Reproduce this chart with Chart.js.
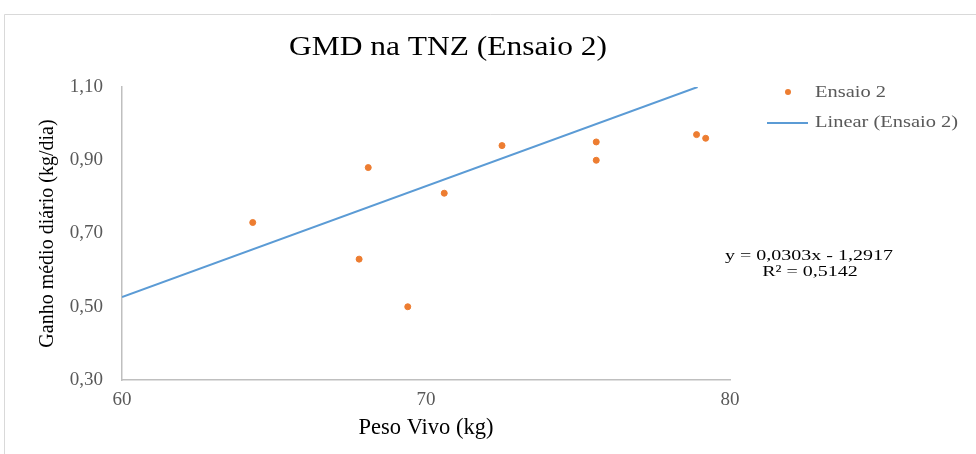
<!DOCTYPE html>
<html>
<head>
<meta charset="utf-8">
<script src="https://cdn.jsdelivr.net/npm/chart.js@4.4.1/dist/chart.umd.min.js"></script>
<style>
  html, body { margin: 0; padding: 0; background: #fff; }
  #wrap { position: relative; width: 976px; height: 454px; }
</style>
</head>
<body>
<div id="wrap"><canvas id="gmdChart" width="976" height="454"></canvas></div>
<script>
// -- Data -------------------------------------------------------------
const pesoVivo = [64.3, 67.8, 68.1, 69.4, 70.6, 72.5, 75.6, 75.6, 78.9, 79.2];
const gmd = [0.73, 0.63, 0.88, 0.50, 0.81, 0.94, 0.95, 0.90, 0.97, 0.96];
const xTicks = [60, 70, 80];
const yTicks = [0.30, 0.50, 0.70, 0.90, 1.10];
// linear trend line as printed on the chart
const trendSlope = 0.0303;
const trendIntercept = -1.2917;
const trendR2 = 0.5142;

const chartTitle = "GMD na TNZ (Ensaio 2)";
const seriesLabel = "Ensaio 2";
const trendLabel = "Linear (Ensaio 2)";

const SERIF = "'Liberation Serif', 'Times New Roman', serif";
const ORANGE = "#ED7D31";
const BLUE = "#5B9BD5";
const fmt = (v, d) => v.toFixed(d).replace(".", ",");

const yMin = yTicks[0], yMax = yTicks[yTicks.length - 1];
const xMin = xTicks[0];
// trend line runs from the left edge until it leaves the top of the plot
const trendEndX = (yMax - trendIntercept) / trendSlope;
const trendPoints = [
  { x: xMin, y: trendSlope * xMin + trendIntercept },
  { x: trendEndX, y: yMax },
];

// the source picture is a bit stretched sideways, so text drawn here is
// widened to match it
function wideText(ctx, text, x, y, align, sx) {
  ctx.save();
  ctx.translate(x, y);
  ctx.scale(sx, 1);
  ctx.textAlign = align;
  ctx.fillText(text, 0, 0);
  ctx.restore();
}

// frame, title, legend and regression equation (Excel-style placement)
const extras = {
  id: "extras",
  beforeDraw(chart) {
    const ctx = chart.ctx;
    ctx.save();
    ctx.fillStyle = "#fff";
    ctx.fillRect(0, 0, chart.width, chart.height);
    ctx.strokeStyle = "#d9d9d9";
    ctx.lineWidth = 1;
    ctx.beginPath();
    ctx.moveTo(4.5, chart.height);
    ctx.lineTo(4.5, 14.5);
    ctx.lineTo(chart.width, 14.5);
    ctx.stroke();
    ctx.restore();
  },
  afterDraw(chart) {
    const ctx = chart.ctx;
    ctx.save();
    ctx.textBaseline = "middle";

    // title
    ctx.fillStyle = "#000";
    ctx.font = "27px " + SERIF;
    wideText(ctx, chartTitle, 448, 48, "center", 1.165);

    // equation
    ctx.font = "15.5px " + SERIF;
    wideText(ctx, `y = ${fmt(trendSlope, 4)}x - ${fmt(-trendIntercept, 4)}`, 809, 255.5, "center", 1.29);
    wideText(ctx, `R\u00b2 = ${fmt(trendR2, 4)}`, 810, 272, "center", 1.29);

    // legend
    ctx.fillStyle = "#595959";
    ctx.font = "16.5px " + SERIF;
    wideText(ctx, seriesLabel, 815, 92.5, "left", 1.24);
    wideText(ctx, trendLabel, 815, 122.5, "left", 1.24);
    ctx.fillStyle = ORANGE;
    ctx.beginPath();
    ctx.arc(788, 92, 3, 0, Math.PI * 2);
    ctx.fill();
    ctx.strokeStyle = BLUE;
    ctx.lineWidth = 2;
    ctx.beginPath();
    ctx.moveTo(767, 123);
    ctx.lineTo(808, 123);
    ctx.stroke();
    ctx.restore();
  },
};

new Chart(document.getElementById("gmdChart"), {
  type: "scatter",
  data: {
    datasets: [
      {
        label: seriesLabel,
        data: pesoVivo.map((x, i) => ({ x, y: gmd[i] })),
        backgroundColor: ORANGE,
        borderColor: ORANGE,
        pointRadius: 3,
      },
      {
        label: trendLabel,
        type: "line",
        data: trendPoints,
        borderColor: BLUE,
        borderWidth: 2,
        pointRadius: 0,
      },
    ],
  },
  options: {
    animation: false,
    responsive: false,
    layout: { padding: { top: 87, left: 31, right: 246, bottom: 0 } },
    scales: {
      x: {
        type: "linear",
        min: xTicks[0],
        max: xTicks[xTicks.length - 1],
        afterBuildTicks: (s) => { s.ticks = xTicks.map((v) => ({ value: v })); },
        afterFit: (s) => { s.height = 74; },
        grid: { display: false, drawTicks: false },
        border: { color: "#bfbfbf", width: 1.5 },
        ticks: {
          color: "#595959",
          padding: 9,
          font: { family: SERIF, size: 19 },
        },
        title: {
          display: true,
          text: "Peso Vivo (kg)",
          color: "#000",
          font: { family: SERIF, size: 22.5 },
          padding: { top: 0, bottom: 12 },
        },
      },
      y: {
        min: yMin,
        max: yMax,
        afterBuildTicks: (s) => { s.ticks = yTicks.map((v) => ({ value: v })); },
        afterFit: (s) => { s.width = 91; },
        grid: { display: false, drawTicks: false },
        border: { color: "#bfbfbf", width: 1.5 },
        ticks: {
          color: "#595959",
          padding: 19,
          font: { family: SERIF, size: 19 },
          callback: (v) => fmt(v, 2),
        },
        title: {
          display: true,
          text: "Ganho médio diário (kg/dia)",
          color: "#000",
          font: { family: SERIF, size: 20 },
          padding: { top: 5, bottom: 0 },
        },
      },
    },
    plugins: {
      title: { display: false },
      legend: { display: false },
      tooltip: { enabled: false },
    },
  },
  plugins: [extras],
});
</script>
</body>
</html>
